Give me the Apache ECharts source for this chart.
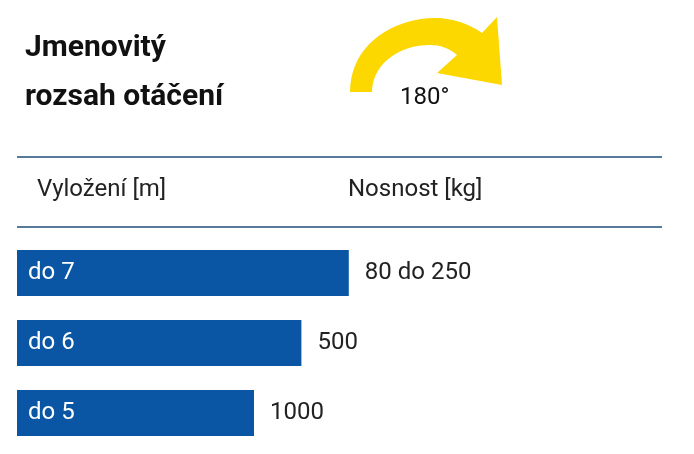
<!DOCTYPE html><html><head><meta charset="utf-8">
<script src="https://cdn.jsdelivr.net/npm/echarts@6/dist/echarts.min.js"></script>
<style>html,body{margin:0;background:#fff}#c{width:694px;height:454px}</style></head><body><div id="c"></div>
<script>
const categories = ['do 7','do 6','do 5'];
const reach = [7,6,5];
const capacity = ['80 do 250','500','1000'];
const ch = echarts.init(document.getElementById('c'));
const F = 'Roboto, "Noto Sans", sans-serif';
function bez(p0,p1,p2,p3,n){const o=[];for(let i=1;i<=n;i++){const t=i/n,u=1-t;o.push([u*u*u*p0[0]+3*u*u*t*p1[0]+3*u*t*t*p2[0]+t*t*t*p3[0],u*u*u*p0[1]+3*u*u*t*p1[1]+3*u*t*t*p2[1]+t*t*t*p3[1]]);}return o;}
let pts=[[350,92]];
pts=pts.concat(bez([350,92],[350,42],[398,16],[440,18],20));
pts=pts.concat(bez([440,18],[460,20],[474,27],[482,33],8));
pts.push([497,17],[502,85],[437,73],[457,55]);
pts=pts.concat(bez([457,55],[449,48],[440,45],[430,45],8));
pts=pts.concat(bez([430,45],[398,45],[372,65],[372,92],20));
ch.setOption({
  animation:false,
  grid:{left:17,top:238,width:474,height:210},
  xAxis:{type:'value',min:0,max:10,show:false},
  yAxis:{type:'category',data:categories,inverse:true,show:false},
  series:[{type:'bar',data:reach,barWidth:46,itemStyle:{color:'#0a56a4'},
    label:{show:true,position:'insideLeft',offset:[6,0],color:'#fff',fontSize:24,fontFamily:F,formatter:p=>categories[p.dataIndex]}
  },{type:'bar',data:reach,barWidth:46,barGap:'-100%',itemStyle:{color:'rgba(0,0,0,0)'},
    label:{show:true,position:'right',distance:16,color:'#222',fontSize:24,fontFamily:F,formatter:p=>capacity[p.dataIndex]}}],
  graphic:[
    {type:'text',x:25,y:33,style:{text:'Jmenovitý',fontSize:30,fontWeight:'bold',fontFamily:F,fill:'#111'}},
    {type:'text',x:25,y:82,style:{text:'rozsah otáčení',fontSize:30,fontWeight:'bold',fontFamily:F,fill:'#111'}},
    {type:'polygon',shape:{points:pts},style:{fill:'#fcd700'}},
    {type:'text',x:400,y:86,style:{text:'180°',fontSize:24,fontFamily:F,fill:'#111'}},
    {type:'line',shape:{x1:17,y1:157,x2:662,y2:157},style:{stroke:'#1f4e79',lineWidth:1.5}},
    {type:'line',shape:{x1:17,y1:227,x2:662,y2:227},style:{stroke:'#1f4e79',lineWidth:1.5}},
    {type:'text',x:37,y:178,style:{text:'Vyložení [m]',fontSize:24,fontFamily:F,fill:'#222'}},
    {type:'text',x:348,y:178,style:{text:'Nosnost [kg]',fontSize:24,fontFamily:F,fill:'#222'}}
  ]
});
</script></body></html>
